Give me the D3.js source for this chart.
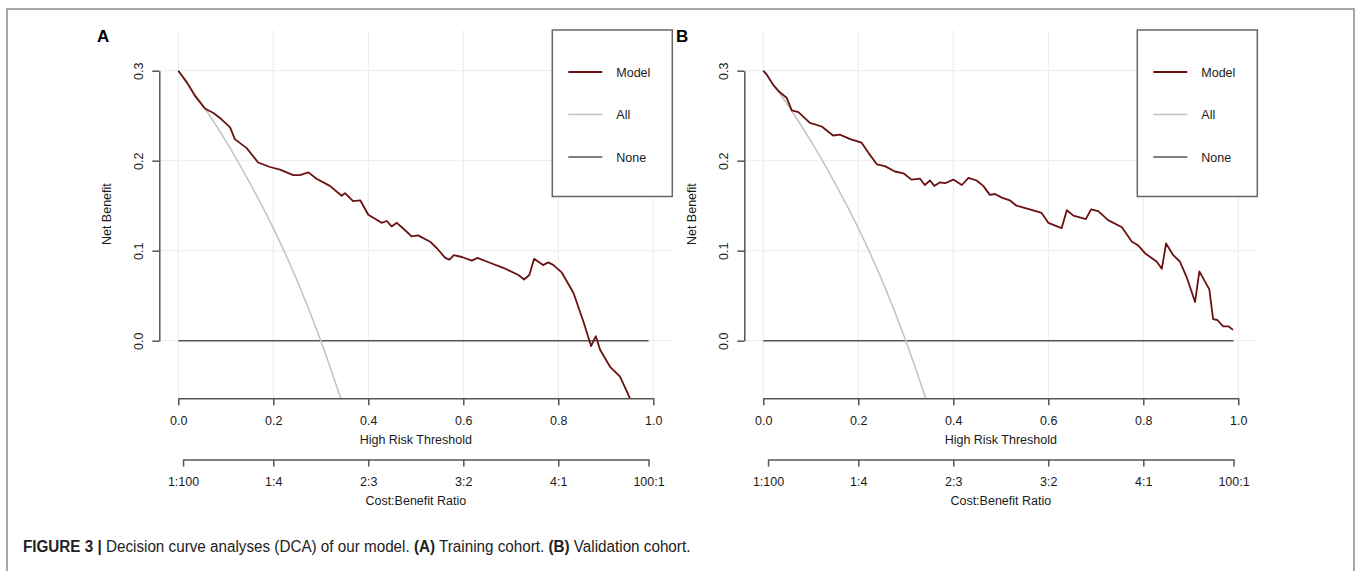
<!DOCTYPE html>
<html>
<head>
<meta charset="utf-8">
<script src="https://cdn.jsdelivr.net/npm/d3@7"></script>
<style>
  html, body { margin: 0; padding: 0; background: #fff; }
  svg { display: block; }
  text { font-family: "Liberation Sans", Arial, Helvetica, sans-serif; }
</style>
</head>
<body>
<svg id="chart" width="1357" height="571"></svg>
<script>
// ---------------- data ----------------
const thresholdTicks = [0, 0.2, 0.4, 0.6, 0.8, 1.0];
const netBenefitTicks = [0, 0.1, 0.2, 0.3];
const costBenefitPos = [0.01, 0.2, 0.4, 0.6, 0.8, 0.99];
const costBenefitLabels = ["1:100", "1:4", "2:3", "3:2", "4:1", "100:1"];
const legendLabels = ["Model", "All", "None"];
const panelLabels = ["A", "B"];

// Panel A (training cohort) – model curve
const modelA_t = [0, 0.018, 0.035, 0.056, 0.074, 0.091, 0.109, 0.119, 0.144, 0.168, 0.193, 0.214,
  0.242, 0.256, 0.274, 0.291, 0.319, 0.344, 0.351, 0.368, 0.383, 0.400, 0.428, 0.439, 0.449,
  0.460, 0.477, 0.491, 0.505, 0.530, 0.544, 0.562, 0.571, 0.580, 0.597, 0.618, 0.630, 0.649,
  0.684, 0.716, 0.728, 0.739, 0.749, 0.768, 0.779, 0.790, 0.807, 0.832, 0.853, 0.869, 0.879,
  0.888, 0.909, 0.930, 0.951];
const modelA_nb = [0.300, 0.287, 0.272, 0.258, 0.253, 0.246, 0.237, 0.224, 0.214, 0.198, 0.193, 0.190,
  0.184, 0.184, 0.187, 0.180, 0.172, 0.161, 0.164, 0.155, 0.156, 0.140, 0.131, 0.133, 0.127,
  0.131, 0.123, 0.116, 0.117, 0.110, 0.103, 0.092, 0.090, 0.095, 0.093, 0.089, 0.092, 0.088,
  0.081, 0.073, 0.068, 0.073, 0.091, 0.084, 0.087, 0.084, 0.076, 0.053, 0.021, -0.006, 0.005,
  -0.010, -0.029, -0.040, -0.064];

// Panel B (validation cohort) – model curve
const modelB_t = [0, 0.007, 0.021, 0.035, 0.049, 0.060, 0.074, 0.098, 0.123, 0.147, 0.161, 0.183,
  0.207, 0.221, 0.239, 0.256, 0.277, 0.295, 0.312, 0.330, 0.340, 0.351, 0.360, 0.372, 0.383,
  0.400, 0.418, 0.432, 0.449, 0.463, 0.477, 0.488, 0.502, 0.519, 0.533, 0.561, 0.586, 0.600,
  0.628, 0.639, 0.653, 0.679, 0.690, 0.705, 0.726, 0.755, 0.776, 0.789, 0.804, 0.828, 0.839,
  0.848, 0.863, 0.877, 0.891, 0.909, 0.918, 0.939, 0.947, 0.956, 0.968, 0.979, 0.989];
const modelB_nb = [0.300, 0.296, 0.284, 0.276, 0.270, 0.256, 0.254, 0.242, 0.238, 0.228, 0.229, 0.224,
  0.220, 0.209, 0.196, 0.194, 0.188, 0.186, 0.179, 0.180, 0.173, 0.178, 0.172, 0.176, 0.175,
  0.179, 0.173, 0.181, 0.178, 0.172, 0.162, 0.163, 0.159, 0.156, 0.150, 0.146, 0.142, 0.131,
  0.125, 0.145, 0.139, 0.135, 0.146, 0.144, 0.134, 0.126, 0.110, 0.106, 0.097, 0.088, 0.080,
  0.108, 0.095, 0.088, 0.071, 0.043, 0.077, 0.057, 0.024, 0.023, 0.016, 0.016, 0.012];

// Treat-all curve (same prevalence in both cohorts)
const all_t = [0, 0.05, 0.10, 0.15, 0.20, 0.25, 0.30, 0.342];
const all_nb = [0.300, 0.263, 0.222, 0.176, 0.125, 0.067, 0.000, -0.064];

// Treat-none line
const none_t = [0, 0.99];
const none_nb = [0, 0];

// Caption pieces [text, bold]
const captionParts = [["FIGURE 3 | ", true], ["Decision curve analyses (DCA) of our model. ", false],
  ["(A)", true], [" Training cohort. ", false], ["(B)", true], [" Validation cohort.", false]];

// ---------------- drawing ----------------
const svg = d3.select("#chart");
const C = {
  model: "#6a1111", all: "#c2c2c2", none: "#555555",
  axis: "#555555", grid: "#ececec", text: "#1a1a1a"
};

// outer frame
svg.append("path")
  .attr("d", "M7,580 L7,9 L1354,9 L1354,580")
  .attr("fill", "none").attr("stroke", "#8a8a8a").attr("stroke-width", 1.5);

const panels = [
  { offset: 0, t: modelA_t, nb: modelA_nb, label: panelLabels[0] },
  { offset: 585, t: modelB_t, nb: modelB_nb, label: panelLabels[1] }
];

panels.forEach((p, pi) => {
  const x0 = 178.3 + p.offset, x1 = 653.3 + p.offset;
  const x = d3.scaleLinear().domain([0, 1]).range([x0, x1]);
  const y = d3.scaleLinear().domain([0, 0.3]).range([340.7, 70.7]);
  const left = x(-0.04), right = x(1.04), top = 30, bottom = 398.3;

  const g = svg.append("g");
  const clipId = "clip" + pi;
  g.append("clipPath").attr("id", clipId)
    .append("rect").attr("x", left).attr("y", top).attr("width", right - left).attr("height", bottom - top);

  // grid
  const grid = g.append("g").attr("stroke", C.grid).attr("stroke-width", 1);
  thresholdTicks.forEach(v => grid.append("line")
    .attr("x1", x(v)).attr("x2", x(v)).attr("y1", top).attr("y2", bottom));
  netBenefitTicks.forEach(v => grid.append("line")
    .attr("x1", left).attr("x2", right).attr("y1", y(v)).attr("y2", y(v)));

  const line = d3.line().x(d => x(d[0])).y(d => y(d[1]));
  const plot = g.append("g").attr("clip-path", `url(#${clipId})`).attr("fill", "none");

  plot.append("path").datum(d3.zip(none_t, none_nb))
    .attr("d", line).attr("stroke", C.none).attr("stroke-width", 1.5);
  plot.append("path").datum(d3.zip(all_t, all_nb))
    .attr("d", line.curve(d3.curveMonotoneX)).attr("stroke", C.all).attr("stroke-width", 1.5);
  line.curve(d3.curveLinear);
  plot.append("path").datum(d3.zip(p.t, p.nb))
    .attr("d", line).attr("stroke", C.model).attr("stroke-width", 1.8).attr("stroke-linejoin", "round");

  // x axis (threshold)
  const xa = g.append("g").attr("transform", `translate(0,${bottom})`)
    .call(d3.axisBottom(x).tickValues(thresholdTicks).tickFormat(d3.format(".1f"))
      .tickSizeInner(7).tickSizeOuter(0).tickPadding(11));
  // y axis
  const ya = g.append("g").attr("transform", `translate(${left},0)`)
    .call(d3.axisLeft(y).tickValues(netBenefitTicks).tickFormat(d3.format(".1f"))
      .tickSizeInner(7).tickSizeOuter(0));
  ya.selectAll(".tick text").attr("x", null).attr("dy", null)
    .attr("text-anchor", "middle").attr("transform", "translate(-16,0) rotate(-90)");

  // cost:benefit axis
  const cb = d3.scaleLinear().domain([0.01, 0.99]).range([x(0.01), x(0.99)]);
  const ca = g.append("g").attr("transform", "translate(0,459.5)")
    .call(d3.axisBottom(cb).tickValues(costBenefitPos)
      .tickFormat((d, i) => costBenefitLabels[i]).tickSizeInner(7).tickSizeOuter(0).tickPadding(11));

  [xa, ya, ca].forEach(a => {
    a.select(".domain").attr("stroke", C.axis).attr("stroke-width", 1.5);
    a.selectAll(".tick line").attr("stroke", C.axis).attr("stroke-width", 1.5);
    a.selectAll(".tick text").attr("fill", C.text).style("font-size", "12.5px")
      .style("font-family", "'Liberation Sans', Arial, sans-serif");
  });

  const midX = (left + right) / 2;
  g.append("text").attr("x", midX).attr("y", 443.5).attr("text-anchor", "middle")
    .attr("fill", C.text).style("font-size", "12.5px").text("High Risk Threshold");
  g.append("text").attr("x", midX).attr("y", 504.5).attr("text-anchor", "middle")
    .attr("fill", C.text).style("font-size", "12.5px").text("Cost:Benefit Ratio");
  g.append("text").attr("transform", `translate(${left - 48},${(top + bottom) / 2}) rotate(-90)`)
    .attr("text-anchor", "middle").attr("fill", C.text).style("font-size", "12.5px").text("Net Benefit");

  // legend
  const lg = g.append("g");
  const lx = x(1.04) - 120;
  lg.append("rect").attr("x", lx).attr("y", top).attr("width", 120).attr("height", 166.5)
    .attr("fill", "#fff").attr("stroke", "#666").attr("stroke-width", 1.5);
  const lColors = [C.model, C.all, C.none];
  const lWidths = [2, 1.5, 1.5];
  legendLabels.forEach((lab, i) => {
    const ly = 72 + i * 42.5;
    lg.append("line").attr("x1", lx + 16).attr("x2", lx + 50).attr("y1", ly).attr("y2", ly)
      .attr("stroke", lColors[i]).attr("stroke-width", lWidths[i]);
    lg.append("text").attr("x", lx + 64).attr("y", ly + 4.5).attr("fill", C.text)
      .style("font-size", "12.5px").text(lab);
  });

  // panel label
  svg.append("text").attr("x", pi === 0 ? 97 : 676).attr("y", 42)
    .attr("fill", "#000").style("font-size", "17px").style("font-weight", "bold").text(p.label);
});

// caption: one text element, horizontally condensed by a group scale to the reference width
const capG = svg.append("g");
const cap = capG.append("text").attr("x", 0).attr("y", 0)
  .attr("fill", "#222").style("font-size", "16px")
  .style("font-family", "'Liberation Sans Narrow', 'Liberation Sans', Arial, sans-serif");
captionParts.forEach(([s, b]) => cap.append("tspan").style("font-weight", b ? "bold" : "normal").text(s));
const natural = cap.node().getComputedTextLength();
const sx = 668 / natural;
capG.attr("transform", `translate(23,551.5) scale(${sx},1)`);
</script>
</body>
</html>
